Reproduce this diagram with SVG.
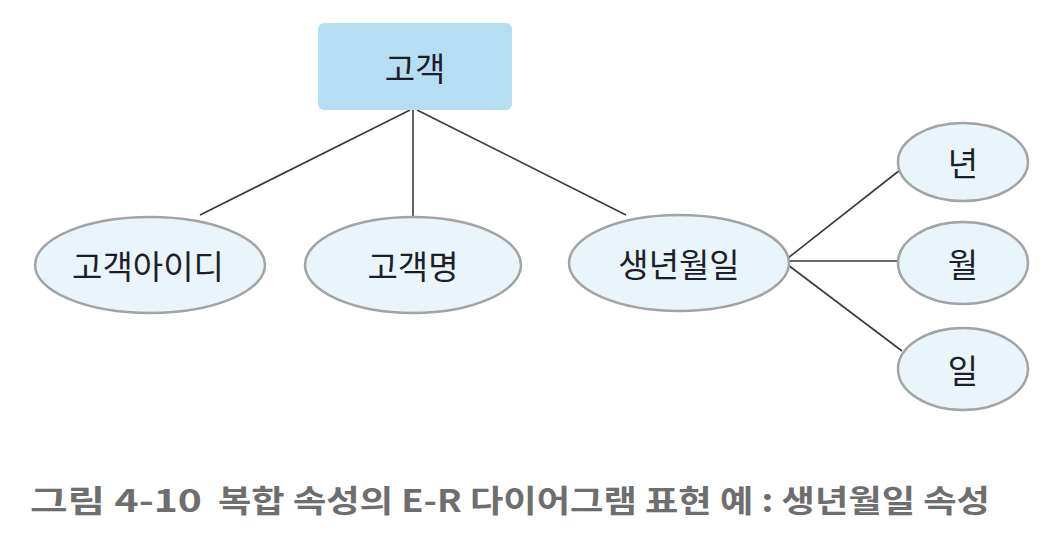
<svg xmlns="http://www.w3.org/2000/svg" width="1063" height="547" viewBox="0 0 1063 547">
<style>
.ent{fill:#b5def2;}
.att{fill:#e9f5fa;stroke:#a3a3a3;stroke-width:2.5;}
.lbl{font-family:"Noto Sans CJK KR","Noto Sans",sans-serif;font-size:33px;fill:#1e1e28;text-anchor:middle;dominant-baseline:central;}
.cn line{stroke:#3a3a3a;stroke-width:1.6;}
.cap{font-family:"Noto Sans CJK KR","Noto Sans",sans-serif;font-size:31px;font-weight:bold;fill:#6e6e6e;}
</style>
<rect width="1063" height="547" fill="#ffffff"/>
<g id="connectors" class="cn">
<line x1="410" y1="110" x2="200" y2="215"/>
<line x1="413" y1="110" x2="413" y2="217"/>
<line x1="417" y1="110" x2="626" y2="215"/>
<line x1="788" y1="258" x2="900" y2="170"/>
<line x1="789" y1="261" x2="897" y2="261"/>
<line x1="788" y1="265" x2="902" y2="351"/>
</g>
<g id="n-customer"><rect class="ent" x="318" y="23" width="194" height="87" rx="6"/><text class="lbl" x="415" y="67">고객</text></g>
<g id="n-id"><ellipse class="att" cx="150" cy="265" rx="115" ry="48"/><text class="lbl" x="148" y="265">고객아이디</text></g>
<g id="n-name"><ellipse class="att" cx="413" cy="265" rx="108" ry="48"/><text class="lbl" x="413" y="265">고객명</text></g>
<g id="n-birth"><ellipse class="att" cx="679" cy="263" rx="110" ry="48"/><text class="lbl" x="679" y="263">생년월일</text></g>
<g id="n-year"><ellipse class="att" cx="963" cy="162" rx="65" ry="39"/><text class="lbl" x="963" y="162">년</text></g>
<g id="n-month"><ellipse class="att" cx="963" cy="263" rx="65" ry="41"/><text class="lbl" x="963" y="263">월</text></g>
<g id="n-day"><ellipse class="att" cx="963" cy="369" rx="65" ry="41"/><text class="lbl" x="963" y="369">일</text></g>
<text class="cap" y="512"><tspan x="30" textLength="172" lengthAdjust="spacingAndGlyphs">그림 4-10</tspan><tspan x="218" textLength="772" lengthAdjust="spacingAndGlyphs">복합 속성의 E-R 다이어그램 표현 예 : 생년월일 속성</tspan></text>
</svg>
